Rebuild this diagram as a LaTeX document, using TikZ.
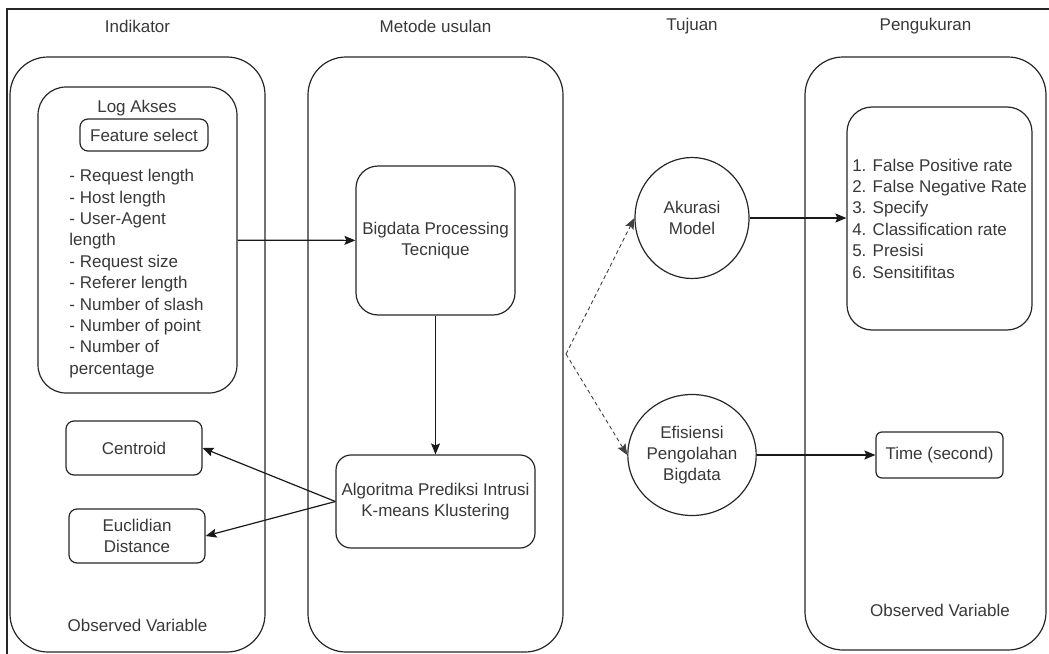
\documentclass[tikz,border=0pt]{standalone}
\usepackage{fontspec}
\setmainfont{Liberation Sans}
\usetikzlibrary{shapes.geometric, arrows.meta, positioning}

\begin{document}
\begin{tikzpicture}[
    x=1pt, y=-1pt,
    every node/.style={text=black!78, font=\fontsize{17}{21.4}\selectfont},
    colbox/.style={rectangle, draw=black!85, line width=1.2pt,
        rounded corners=38pt, minimum width=255pt, minimum height=595pt},
    innerbox/.style={rectangle, draw=black!85, line width=1.2pt,
        rounded corners=28pt, align=center},
    smallbox/.style={rectangle, draw=black!85, line width=1.2pt,
        rounded corners=8pt, align=center, inner sep=0pt},
    goal/.style={ellipse, draw=black!85, line width=1.2pt,
        minimum width=114pt, minimum height=121pt, inner sep=0pt, align=center},
    listtext/.style={align=left, inner sep=0pt},
    arrow/.style={-{Stealth[length=11pt, width=9pt, inset=2pt]}, line width=1.2pt, draw=black!90},
    dasharrow/.style={arrow, line width=0.9pt, dash pattern=on 4pt off 3pt, draw=black!75},
]
\useasboundingbox (0,0) rectangle (1049,653);

% ---- frame ----
\draw[line width=1.4pt, black!85] (7,9) rectangle (1070,670);

% ---- headers ----
\node (hdind) at (137.5,26) {Indikator};
\node (hdmet) at (435.5,26) {Metode usulan};
\node (hdtuj) at (692,26)   {Tujuan};
\node (hdpen) at (925.5,26) {Pengukuran};

% ---- columns ----
\node (indikator)  [colbox] at (137.5,354.5) {};
\node (metode)     [colbox] at (435.5,354.5) {};
\node (pengukuran) [colbox, minimum width=241pt, minimum height=593pt] at (925.5,353.5) {};

% ---- indikator ----
\node (logakses) [innerbox, minimum width=199pt, minimum height=306pt] at (137.5,240) {};
\node (logtitle) at (137,108) {Log Akses};
\node (featsel)  [smallbox, minimum width=128pt, minimum height=32pt] at (144,135) {Feature select};
\node (features) [listtext] at (136.5,273.5) {- Request length\\- Host length\\- User-Agent\\length\\- Request size\\- Referer length\\- Number of slash\\- Number of point\\- Number of\\percentage};

\node (centroid) [smallbox, minimum width=136pt, minimum height=54pt] at (134,448) {Centroid};
\node (euclid)   [smallbox, minimum width=136pt, minimum height=54pt] at (137,536) {Euclidian\\Distance};
\node (obsleft) at (137.5,625) {Observed Variable};

% ---- metode usulan ----
\node (bigdata)   [innerbox, rounded corners=22pt, minimum width=159pt, minimum height=149pt] at (435.5,240.5) {Bigdata Processing\\Tecnique};
\node (algoritma) [innerbox, rounded corners=15pt, minimum width=199pt, minimum height=93pt] at (435.5,501.5) {Algoritma Prediksi Intrusi\\K-means Klustering};

% ---- tujuan ----
\node (akurasi)   [goal] at (692,218) {Akurasi\\Model};
\node (efisiensi) [goal] at (692,455) {Efisiensi\\Pengolahan\\Bigdata};
\coordinate (split) at (566,354);

% ---- pengukuran ----
\node (metrics) [innerbox, rounded corners=25pt, minimum width=185pt, minimum height=223pt, align=left] at (939.5,218.5) {1. False Positive rate\\2. False Negative Rate\\3. Specify\\4. Classification rate\\5. Presisi\\6. Sensitifitas};
\node (timebox) [smallbox, rounded corners=6pt, minimum width=127pt, minimum height=46pt] at (939.5,455) {Time (second)};
\node (obsright) at (940,610) {Observed Variable};

% ---- arrows ----
\draw[arrow] (logakses) -- (bigdata);
\draw[arrow] (bigdata) -- (algoritma);
\draw[arrow] (algoritma.west) -- (centroid.east);
\draw[arrow] (algoritma.west) -- (euclid.east);
\draw[dasharrow] (split) -- (akurasi.west);
\draw[dasharrow] (split) -- (efisiensi.west);
\draw[arrow] (akurasi.east) -- (akurasi.east -| metrics.west);
\draw[arrow] (efisiensi.east) -- (efisiensi.east -| timebox.west);

\end{tikzpicture}
\end{document}
